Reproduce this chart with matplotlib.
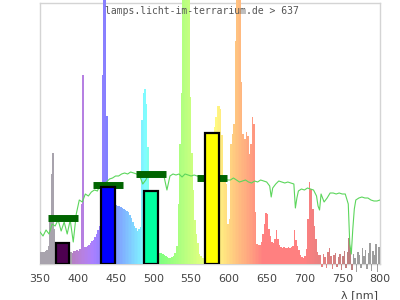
import numpy as np
import matplotlib.pyplot as plt

# lamp spectrum, 2 nm steps from 350 nm, relative units (axis top = 261)
spec_nm = np.arange(350, 800, 2)
spec_val = [
    12, 12, 12, 13, 14, 18, 45, 90, 111, 35,          # 350-368
    22, 20, 19, 18, 17, 16, 15, 14, 13, 12,           # 370-388
    12, 11, 13, 13, 14, 13, 15, 60, 189, 17,          # 390-408
    17, 18, 19, 21, 23, 24, 27, 30, 34, 38,           # 410-428
    45, 189, 300, 300, 148, 60, 55, 55, 56, 58,       # 430-448
    59, 58, 58, 57, 56, 55, 54, 53, 52, 49,           # 450-468
    46, 42, 38, 36, 33, 35, 37, 144, 171, 175,        # 470-488
    160, 117, 50, 35, 28, 25, 22, 20, 16, 11,         # 490-508
    11, 10, 9, 8, 7, 6, 6, 7, 8, 11,                  # 510-528
    18, 60, 120, 171, 300, 300, 300, 300, 300, 167,   # 530-548
    111, 74, 44, 30, 21, 10, 8, 6, 6, 7,              # 550-568
    10, 20, 40, 80, 120, 137, 147, 158, 158, 155,     # 570-588
    129, 85, 88, 80, 40, 45, 120, 130, 140, 223,      # 590-608
    300, 300, 300, 182, 130, 125, 132, 128, 110, 120, # 610-628
    147, 140, 52, 20, 19, 19, 22, 30, 40, 51,         # 630-648
    50, 35, 28, 22, 21, 25, 34, 25, 19, 17,           # 650-668
    16, 17, 16, 16, 17, 16, 17, 18, 34, 24,           # 670-688
    18, 14, 9, 7, 6, 8, 15, 45, 82, 75,               # 690-708
    55, 38, 25, 12, 9, 9, -3, 10, 7, -4,              # 710-728
    12, 16, 8, -5, 9, 11, -3, 7, 10, -6,              # 730-748
    8, 13, -4, 12, 26, 14, -6, 10, 6, -8,             # 750-768
    12, 9, -4, 16, 8, 14, -5, 11, 21, -7,             # 770-788
    13, 9, 20, -8, 17,                                # 790-798
]

# daylight reference curve
sun_nm = [350, 354, 358, 362, 366, 370, 374, 378, 382, 386, 390, 394, 398,
          402, 406, 410, 414, 418, 422, 426, 430, 434, 438, 442, 446, 450,
          454, 458, 462, 466, 470, 474, 478, 482, 486, 490, 494, 498, 502,
          506, 510, 514, 518, 522, 526, 530, 534, 538, 542, 546, 550, 554,
          558, 562, 566, 570, 574, 578, 582, 586, 590, 594, 598, 602, 606,
          610, 614, 618, 622, 626, 630, 634, 638, 642, 646, 650, 654, 656,
          658, 662, 666, 670, 674, 678, 682, 686, 688, 690, 692, 696, 700,
          704, 708, 712, 716, 718, 720, 722, 726, 730, 734, 738, 742, 746,
          750, 754, 758, 760, 762, 764, 766, 768, 772, 776, 780, 784, 788,
          792, 796, 800]
sun_val = [32, 28, 34, 30, 40, 38, 44, 33, 42, 30, 44, 22, 50,
           64, 62, 70, 68, 72, 74, 73, 80, 79, 82, 85, 86, 88,
           88, 90, 91, 90, 92, 91, 90, 88, 80, 84, 90, 91, 90,
           92, 91, 88, 74, 88, 90, 89, 90, 87, 90, 89, 88, 89,
           88, 87, 86, 86, 86, 86, 86, 85, 85, 85, 84, 84, 86,
           84, 82, 83, 84, 82, 81, 83, 82, 84, 83, 82, 78, 67,
           76, 80, 83, 82, 81, 82, 81, 80, 56, 66, 73, 75, 74,
           76, 75, 74, 68, 58, 54, 70, 62, 66, 71, 71, 70, 71,
           70, 70, 60, 20, 10, 35, 55, 64, 66, 67, 66, 66, 64,
           63, 63, 64]

# lamp output per band and daylight share per band
bar_nm = np.array([380, 440, 497, 578])
bar_val = [21, 77, 73, 131]
bar_colors = ['#4d0050', '#0000ff', '#00ffa0', '#ffff00']
ref_val = [46, 79, 90, 86]


def nm_color(nm):
    if nm < 392:
        return (0.66, 0.64, 0.68)
    if nm >= 764:
        return (0.62, 0.62, 0.62)
    if nm < 440:
        r, g, b = (440 - nm) / 60, 0, 1
    elif nm < 490:
        r, g, b = 0, (nm - 440) / 50, 1
    elif nm < 510:
        r, g, b = 0, 1, (510 - nm) / 20
    elif nm < 580:
        r, g, b = (nm - 510) / 70, 1, 0
    elif nm < 645:
        r, g, b = 1, (645 - nm) / 65, 0
    else:
        r, g, b = 1, 0, 0
    if nm < 420:
        f = 0.3 + 0.7 * (nm - 380) / 40
    elif nm > 700:
        f = 0.3 + 0.7 * (780 - nm) / 80
    else:
        f = 1.0
    return (0.5 + 0.5 * r * f, 0.5 + 0.5 * g * f, 0.5 + 0.5 * b * f)


fig = plt.figure(figsize=(4, 3), dpi=100)
ax = fig.add_axes([0.1, 0.12, 0.85, 0.87])

ax.bar(spec_nm, spec_val, width=2, align='edge',
       color=[nm_color(n + 1) for n in spec_nm],
       linewidth=0, antialiased=False, clip_on=False, zorder=1)

ax.plot(sun_nm, sun_val, color='#5cd65c', linewidth=0.8, zorder=2)

ax.hlines(ref_val, bar_nm - 20, bar_nm + 20, colors='#006400',
          linewidth=5, zorder=3)

ax.bar(bar_nm, bar_val, width=18, color=bar_colors,
       edgecolor='black', linewidth=1.6, zorder=4)

ax.set_xlim(350, 800)
ax.set_ylim(0, 261)
ax.set_xticks(range(350, 801, 50))
ax.set_yticks([])
ax.tick_params(axis='x', length=0, pad=7, labelsize=8, labelcolor='#444444')
for s in ax.spines.values():
    s.set_color('#d4d4d4')
    s.set_linewidth(1)
    s.set_zorder(0.5)

fig.text(0.504, 1 - 11 / 300, 'lamps.licht-im-terrarium.de > 637',
         family='DejaVu Sans Mono', fontsize=7, color='#555555',
         ha='center', va='center')
fig.text(0.945, 0.017, 'λ [nm]', fontsize=8, color='#444444',
         ha='right', va='center')

fig.savefig('out.png', dpi=100)
